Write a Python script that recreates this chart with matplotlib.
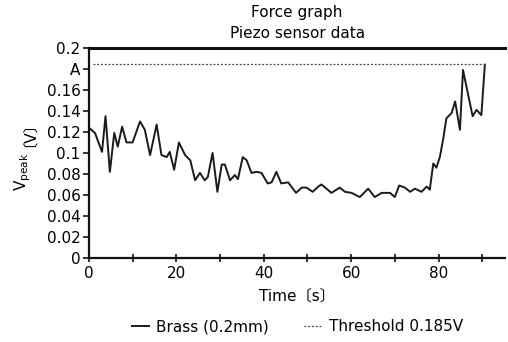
import matplotlib
matplotlib.use("Agg")
import matplotlib.pyplot as plt

plt.rcParams['font.family'] = ['DejaVu Sans', 'Noto Sans CJK JP']

time_s = [0, 1.4, 3, 3.8, 4.8, 5.8, 6.6, 7.6, 8.6, 10, 11.7, 12.8, 14, 15.5, 16.6,
          17.8, 18.5, 19.5, 20.6, 22, 23.2, 24.3, 25.4, 26.5, 27.2, 28.3, 29.4, 30.4,
          31.1, 32.3, 33.4, 34.1, 35.2, 36.1, 37.2, 38.4, 39.5, 40.9, 41.8, 42.9, 44,
          45.6, 47.4, 48.7, 49.8, 51.2, 52.5, 53.2, 55.5, 57.4, 58.6, 60.1, 62, 63.9,
          65.4, 67, 68.9, 70, 71, 72.3, 73.5, 74.6, 76.1, 77.3, 78, 78.8, 79.5, 80.3,
          81.1, 81.8, 83, 83.8, 84.9, 85.6, 87.8, 88.7, 89.8, 90.6]
brass_v = [0.124, 0.119, 0.101, 0.135, 0.082, 0.119, 0.106, 0.125, 0.110, 0.110, 0.130,
           0.122, 0.098, 0.127, 0.098, 0.096, 0.101, 0.084, 0.110, 0.098, 0.093, 0.074,
           0.081, 0.074, 0.077, 0.100, 0.063, 0.089, 0.089, 0.074, 0.079, 0.075, 0.096,
           0.093, 0.081, 0.082, 0.081, 0.071, 0.072, 0.082, 0.071, 0.072, 0.062, 0.067,
           0.067, 0.063, 0.068, 0.070, 0.062, 0.067, 0.063, 0.062, 0.058, 0.066, 0.058,
           0.062, 0.062, 0.058, 0.069, 0.067, 0.063, 0.066, 0.063, 0.068, 0.065, 0.090,
           0.086, 0.096, 0.114, 0.133, 0.138, 0.149, 0.122, 0.179, 0.135, 0.141, 0.136,
           0.184]
threshold_x = [1, 90.8]
threshold_v = [0.185, 0.185]

y_ticks = [0, 0.02, 0.04, 0.06, 0.08, 0.1, 0.12, 0.14, 0.16, 0.18, 0.2]
y_labels = ['0', '0.02', '0.04', '0.06', '0.08', '0.1', '0.12', '0.14', '0.16', 'A', '0.2']
x_ticks = [0, 10, 20, 30, 40, 50, 60, 70, 80, 90]
x_labels = ['0', '', '20', '', '40', '', '60', '', '80', '']

fig = plt.figure(figsize=(5.08, 3.42), dpi=100)
ax = fig.add_axes([0.175, 0.2456, 0.819, 0.6144])

ax.plot(time_s, brass_v, color='#1a1a1a', lw=1.4, label='Brass (0.2mm)')
ax.plot(threshold_x, threshold_v, color='#444444', lw=0.9, ls=(0, (1.5, 1.5)),
        label='Threshold 0.185V')

ax.set_xlim(0, 95.2)
ax.set_ylim(0, 0.2)
ax.set_yticks(y_ticks)
ax.set_yticklabels(y_labels)
ax.set_xticks(x_ticks)
ax.set_xticklabels(x_labels)

for s in ['left', 'bottom', 'top']:
    ax.spines[s].set_linewidth(1.6)
    ax.spines[s].set_color('#111111')
ax.spines['top'].set_linewidth(2.2)
ax.spines['right'].set_visible(False)
ax.tick_params(axis='both', labelsize=11, length=4, width=1.2, color='#111111', pad=2)
ax.tick_params(axis='x', direction='inout', length=6, pad=3)

ax.set_xlabel('Time〔s〕', fontsize=11, labelpad=5)
ax.set_ylabel(r'V$_{\mathrm{peak}}$', fontsize=11)
ax.yaxis.set_label_coords(-0.135, 0.41)
ax.annotate('〔V〕', xy=(0.45, 1.0), xycoords=ax.yaxis.label,
            xytext=(0, 4), textcoords='offset points', rotation=90,
            ha='center', va='bottom', fontsize=11)

fig.text(0.585, 0.962, 'Force graph', ha='center', va='center', fontsize=11)
fig.text(0.585, 0.903, 'Piezo sensor data', ha='center', va='center', fontsize=11)

fig.legend(loc='center', bbox_to_anchor=(0.585, 0.045), ncol=2, frameon=False,
           fontsize=11, handlelength=1.1, columnspacing=2.3, handletextpad=0.5)

fig.savefig('out.png', dpi=100)
